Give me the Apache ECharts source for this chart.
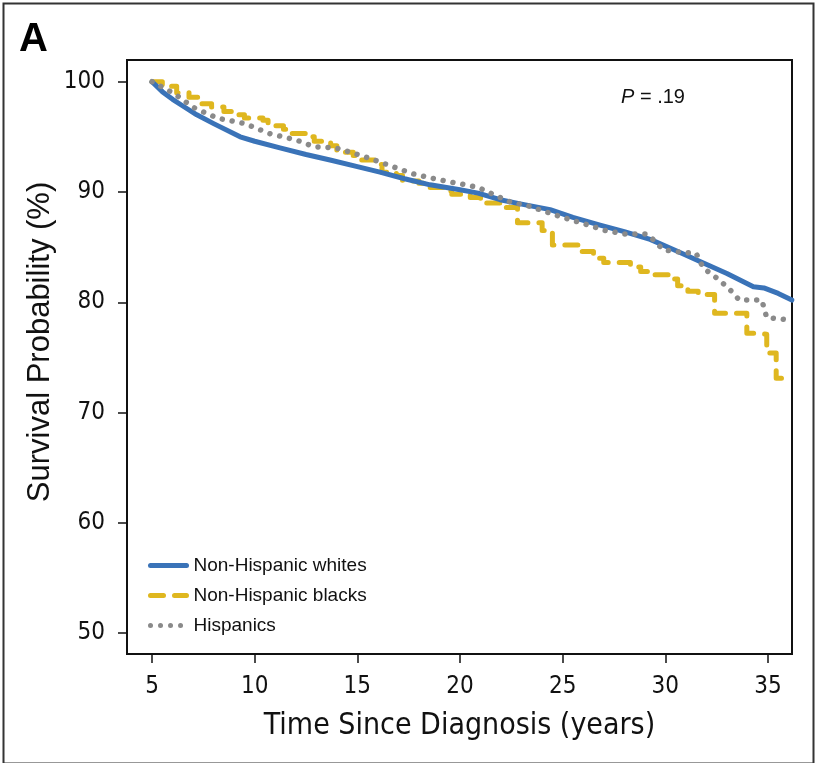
<!DOCTYPE html>
<html>
<head>
<meta charset="utf-8">
<script src="https://cdn.jsdelivr.net/npm/echarts@6/dist/echarts.min.js"></script>
<style>
html,body{margin:0;padding:0;background:#fff;}
#chart{width:815px;height:763px;}
</style>
</head>
<body>
<div id="chart"></div>
<script>
// ---- data ----
var seriesNames = ['Non-Hispanic whites', 'Non-Hispanic blacks', 'Hispanics'];
var xTicks = [5, 10, 15, 20, 25, 30, 35];
var yTicks = [50, 60, 70, 80, 90, 100];

var whitesT = [5, 5.5, 6, 6.5, 7.18, 8, 9.29, 10, 11.23, 12.5, 13.67, 15, 16.1, 17.3, 18.54, 20, 20.88, 21.95, 23, 24.39, 25.5, 26.82, 28, 29.26, 30.5, 31.69, 33, 34.29, 34.8, 35.5, 36.16];
var whitesS = [100, 99.1, 98.4, 97.8, 97.0, 96.2, 95.0, 94.6, 94.0, 93.4, 92.9, 92.3, 91.8, 91.2, 90.65, 90.2, 89.9, 89.3, 88.9, 88.4, 87.7, 87.0, 86.4, 85.7, 84.7, 83.7, 82.6, 81.4, 81.3, 80.8, 80.2];

var blacksT = [5, 5.5, 6.2, 6.8, 7.3, 7.9, 8.5, 9.1, 9.5, 10.4, 10.65, 11.4, 11.8, 12.5, 12.9, 13.7, 14.0, 14.8, 15.1, 16.0, 16.2, 16.9, 17.2, 18.0, 18.5, 19.3, 19.6, 20.5, 21.0, 22.0, 22.8, 24.0, 24.5, 25.9, 26.5, 27.0, 28.3, 28.8, 29.5, 30.2, 30.6, 31.1, 31.6, 32.4, 33.97, 34.4, 34.94, 35.4, 36.17];
var blacksS = [100, 99.6, 99.0, 98.6, 98.0, 97.7, 97.3, 97.0, 96.7, 96.5, 96.0, 95.7, 95.3, 95.0, 94.6, 94.2, 93.6, 93.3, 92.9, 92.5, 91.8, 91.5, 91.0, 90.8, 90.4, 90.1, 89.8, 89.5, 89.0, 88.6, 87.2, 86.5, 85.2, 84.6, 84.0, 83.6, 83.2, 82.8, 82.5, 82.1, 81.5, 81.0, 80.7, 79.0, 77.2, 77.1, 75.4, 73.1, 73.1];

var hispT = [5, 6.04, 7.01, 8.18, 9.53, 10.71, 12.05, 12.9, 13.95, 15.2, 16.43, 17.7, 19.0, 20.4, 20.9, 21.6, 22.44, 23.4, 24.5, 25.36, 26.25, 27.07, 28.0, 29.1, 29.4, 29.9, 30.9, 31.5, 31.85, 32.5, 33.07, 33.6, 34.7, 34.94, 36.16];
var hispS = [100, 98.97, 97.67, 96.7, 96.2, 95.3, 94.7, 94.1, 94.0, 93.3, 92.5, 91.65, 91.1, 90.6, 90.4, 89.8, 89.1, 88.7, 88.0, 87.5, 87.0, 86.5, 86.2, 86.2, 85.7, 84.75, 84.5, 84.45, 83.1, 82.2, 81.3, 80.2, 80.2, 78.6, 78.4];

function pairs(t, s) { return t.map(function (v, i) { return [v, s[i]]; }); }

var narrow = "'Liberation Sans Narrow', 'DejaVu Sans Condensed', 'Arial Narrow', sans-serif";
var sans = "'Liberation Sans', Arial, Helvetica, sans-serif";

var chart = echarts.init(document.getElementById('chart'), null, {renderer: 'canvas'});
chart.setOption({
  animation: false,
  backgroundColor: '#fff',
  grid: {left: 127, right: 23, top: 60, bottom: 109, show: true, borderColor: '#111', borderWidth: 2, backgroundColor: 'transparent'},
  xAxis: {
    type: 'value', min: 3.78, max: 36.17,
    name: 'Time Since Diagnosis (years)', nameLocation: 'middle', nameGap: 57,
    nameTextStyle: {fontFamily: narrow, fontSize: 30, color: '#111'},
    axisLine: {show: false},
    splitLine: {show: false},
    axisTick: {show: true, inside: false, length: 9, lineStyle: {color: '#111', width: 1.5}, customValues: xTicks},
    axisLabel: {fontFamily: narrow, fontSize: 24, color: '#111', margin: 21, customValues: xTicks}
  },
  yAxis: {
    type: 'value', min: 48.1, max: 101.97,
    axisLine: {show: false},
    splitLine: {show: false},
    axisTick: {show: true, inside: false, length: 9, lineStyle: {color: '#111', width: 1.5}, customValues: yTicks},
    axisLabel: {fontFamily: narrow, fontSize: 24, color: '#111', margin: 22, customValues: yTicks}
  },
  legend: {
    orient: 'vertical', left: 143, top: 551, itemGap: 11, itemWidth: 36, itemHeight: 18,
    textStyle: {fontFamily: sans, fontSize: 19, color: '#111', padding: [0, 0, 0, 2]},
    itemStyle: {color: 'rgba(0,0,0,0)', borderColor: 'rgba(0,0,0,0)', borderWidth: 0, opacity: 0},
    lineStyle: {width: 5},
    data: seriesNames
  },
  series: [
    {
      name: seriesNames[0], type: 'line', showSymbol: false, symbol: 'none', smooth: false,
      data: pairs(whitesT, whitesS), z: 3,
      lineStyle: {color: '#3a73b8', width: 5, cap: 'round', join: 'round'},
      itemStyle: {color: '#3a73b8'}
    },
    {
      name: seriesNames[1], type: 'line', showSymbol: false, symbol: 'none', step: 'end',
      data: pairs(blacksT, blacksS), z: 2,
      lineStyle: {color: '#dfb71f', width: 5, type: [13, 11], cap: 'round', join: 'round'},
      itemStyle: {color: '#dfb71f'}
    },
    {
      name: seriesNames[2], type: 'line', showSymbol: false, symbol: 'none',
      data: pairs(hispT, hispS), z: 4,
      lineStyle: {color: '#8a8a8a', width: 5.5, type: [0.01, 10], cap: 'round'},
      itemStyle: {color: '#8a8a8a'}
    }
  ],
  graphic: [
    {type: 'rect', left: 1, top: 1, shape: {width: 810, height: 760}, style: {fill: 'none', stroke: '#333', lineWidth: 2}, silent: true},
    {type: 'text', left: 19, top: 20, style: {text: 'A', fontFamily: sans, fontWeight: 'bold', fontSize: 40, fill: '#000'}},
    {type: 'text', x: 40, y: 342, rotation: Math.PI / 2, style: {
      text: 'Survival Probability (%)', fontFamily: sans, fontSize: 31, fill: '#111',
      align: 'center', verticalAlign: 'middle'
    }},
    {type: 'text', left: 621, top: 87, style: {
      text: '{i|P} = .19',
      rich: {i: {fontStyle: 'italic', fontFamily: sans, fontSize: 20, fill: '#111'}},
      fontFamily: sans, fontSize: 20, fill: '#111'
    }}
  ]
});
</script>
</body>
</html>
